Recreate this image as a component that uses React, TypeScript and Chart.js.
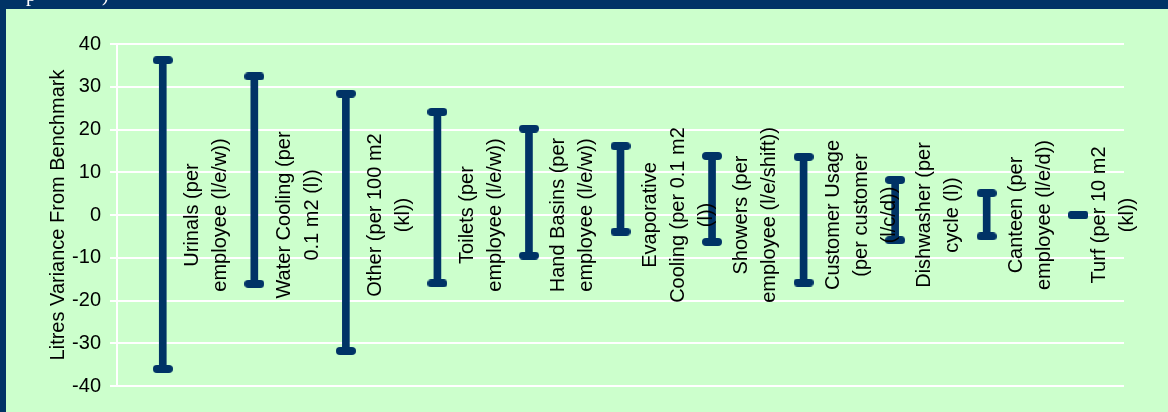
import React, { useEffect, useRef } from 'react';
import { Chart, registerables } from 'chart.js';

Chart.register(...registerables);

// ---- Data ----
const categoryLines: string[][] = [
  ['Urinals (per', 'employee (l/e/w))'],
  ['Water Cooling (per', '0.1 m2 (l))'],
  ['Other (per 100 m2', '(kl))'],
  ['Toilets (per', 'employee (l/e/w))'],
  ['Hand Basins (per', 'employee (l/e/w))'],
  ['Evaporative', 'Cooling (per 0.1 m2', '(l))'],
  ['Showers (per', 'employee (l/e/shift))'],
  ['Customer Usage', '(per customer', '(l/c/d))'],
  ['Dishwasher (per', 'cycle (l))'],
  ['Canteen (per', 'employee (l/e/d))'],
  ['Turf (per 10 m2', '(kl))'],
];
const highValues = [36.2, 32.4, 28.4, 24.1, 20.2, 16.1, 13.8, 13.6, 8.2, 5.1, 0.1];
const lowValues = [-36.0, -16.1, -31.8, -16.0, -9.5, -3.9, -6.3, -15.8, -5.9, -5.0, -0.1];
const yMin = -40;
const yMax = 40;
const yStep = 10;
const yTitle = 'Litres Variance From Benchmark';

const NAVY = '#003366';
const GREEN = '#CCFFCC';
const FONT = '"Liberation Sans", Arial, sans-serif';

export default function App() {
  const ref = useRef<HTMLCanvasElement | null>(null);

  useEffect(() => {
    const canvas = ref.current;
    if (!canvas) return;

    // capsule-shaped cap marker
    const cap = document.createElement('canvas');
    cap.width = 20;
    cap.height = 8;
    const cc = cap.getContext('2d')!;
    cc.fillStyle = NAVY;
    cc.beginPath();
    cc.moveTo(4, 0);
    cc.lineTo(16, 0);
    cc.arc(16, 4, 4, -Math.PI / 2, Math.PI / 2);
    cc.lineTo(4, 8);
    cc.arc(4, 4, 4, Math.PI / 2, (3 * Math.PI) / 2);
    cc.closePath();
    cc.fill();

    const bgPlugin = {
      id: 'bg',
      beforeDraw(chart: any) {
        const { ctx, width, height } = chart;
        ctx.save();
        ctx.fillStyle = NAVY;
        ctx.fillRect(0, 0, width, height);
        ctx.fillStyle = GREEN;
        ctx.fillRect(6, 9, width - 6, height - 9);
        // clipped remains of a heading above the chart
        ctx.fillStyle = '#ffffff';
        ctx.font = '20px "Liberation Serif", serif';
        ctx.textBaseline = 'alphabetic';
        ctx.textAlign = 'left';
        ctx.fillText('p', 26, 1);
        ctx.fillText(')', 102, 1);
        ctx.restore();
      },
    };

    const textPlugin = {
      id: 'texts',
      afterDatasetsDraw(chart: any) {
        const { ctx, chartArea } = chart;
        const xs = chart.scales.x;
        const ys = chart.scales.y;
        const y0 = ys.getPixelForValue(0);
        const slot = (chartArea.right - chartArea.left) / categoryLines.length;
        ctx.save();
        ctx.fillStyle = '#000000';
        ctx.font = `20px ${FONT}`;
        ctx.textAlign = 'center';
        ctx.textBaseline = 'middle';
        const lineGap = 28;
        categoryLines.forEach((lines, i) => {
          let first = xs.getPixelForValue(i) + slot / 2 - 16;
          const last = first + (lines.length - 1) * lineGap;
          const limit = chartArea.right + 3;
          if (last > limit) first -= last - limit;
          ctx.save();
          ctx.translate(first, y0);
          ctx.rotate(-Math.PI / 2);
          lines.forEach((ln, k) => ctx.fillText(ln, 0, k * lineGap));
          ctx.restore();
        });
        // y-axis title
        ctx.save();
        ctx.translate(58, (chartArea.top + chartArea.bottom) / 2);
        ctx.rotate(-Math.PI / 2);
        ctx.fillText(yTitle, 0, 0);
        ctx.restore();
        ctx.restore();
      },
    };

    const labels = categoryLines.map((l) => l.join(' '));

    const chart = new Chart(canvas, {
      type: 'bar',
      data: {
        labels,
        datasets: [
          {
            type: 'line',
            label: 'High',
            data: highValues,
            showLine: false,
            pointStyle: cap as any,
            pointRadius: 10,
            order: 0,
          } as any,
          {
            type: 'line',
            label: 'Low',
            data: lowValues,
            showLine: false,
            pointStyle: cap as any,
            pointRadius: 10,
            order: 0,
          } as any,
          {
            type: 'bar',
            label: 'Range',
            data: lowValues.map((lo, i) => [lo, highValues[i]]),
            backgroundColor: NAVY,
            borderWidth: 0,
            barThickness: 7,
            order: 1,
          } as any,
        ],
      },
      options: {
        responsive: false,
        animation: false,
        layout: { padding: { top: 44, right: 44, bottom: 26, left: 0 } },
        plugins: {
          legend: { display: false },
          tooltip: { enabled: false },
        },
        scales: {
          x: {
            display: false,
            offset: true,
            grid: { display: false },
          },
          y: {
            min: yMin,
            max: yMax,
            ticks: {
              stepSize: yStep,
              color: '#000000',
              font: { size: 20, family: FONT },
              padding: 9,
            },
            grid: { color: '#ffffff', lineWidth: 2, tickLength: 7 },
            border: { color: '#ffffff', width: 2 },
            afterFit(s: any) {
              s.width = 117;
            },
          },
        },
      },
      plugins: [bgPlugin, textPlugin],
    });

    return () => chart.destroy();
  }, []);

  return (
    <div style={{ position: 'absolute', left: 0, top: 0, width: 1168, height: 412 }}>
      <canvas ref={ref} width={1168} height={412} style={{ display: 'block' }} />
    </div>
  );
}
